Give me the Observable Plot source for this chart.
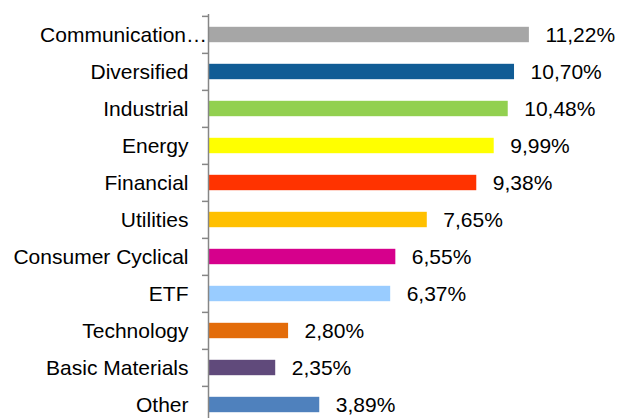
<!DOCTYPE html>
<html>
<head>
<meta charset="utf-8">
<script src="https://cdn.jsdelivr.net/npm/d3@7"></script>
<script src="https://cdn.jsdelivr.net/npm/@observablehq/plot@0.6"></script>
<style>
  html, body { margin: 0; padding: 0; background: #fff; }
  #chart svg { display: block; }
</style>
</head>
<body>
<div id="chart"></div>
<script>
const categories = ["Communication…", "Diversified", "Industrial", "Energy", "Financial", "Utilities", "Consumer Cyclical", "ETF", "Technology", "Basic Materials", "Other"];
const values = [11.22, 10.70, 10.48, 9.99, 9.38, 7.65, 6.55, 6.37, 2.80, 2.35, 3.89];
const colors = ["#A6A6A6", "#105C95", "#92D050", "#FFFF00", "#FF3300", "#FFC000", "#D6008C", "#99CCFF", "#E36C0A", "#604A7B", "#4F81BD"];

const data = categories.map((c, i) => ({cat: c, value: values[i], color: colors[i]}));

const pxPerUnit = 28.6;
const x0 = 208;
const step = 37.24;
const yTop = 14.3;

const fmt = v => v.toFixed(2).replace(".", ",") + "%";

const chart = Plot.plot({
  width: 619,
  height: 418,
  marginTop: 14,
  marginBottom: 0,
  marginLeft: x0,
  marginRight: 0,
  style: {fontFamily: "'Liberation Sans', Arial, sans-serif", fontSize: "21px", color: "#000", background: "#fff"},
  x: {domain: [0, 12], range: [x0, x0 + 12 * pxPerUnit], axis: null},
  y: {domain: categories, range: [yTop, yTop + categories.length * step], padding: 0, axis: null},
  marks: [
    Plot.barX(data, {x: "value", y: "cat", fill: "color", insetTop: 10.8, insetBottom: 10.8}),
    Plot.ruleY(categories, {y: d => d, x1: -6 / pxPerUnit, x2: 0, dy: -step / 2, stroke: "#868686", strokeWidth: 1.5}),
    Plot.ruleX([0], {stroke: "#868686", strokeWidth: 1.5}),
    Plot.text(categories.filter(c => c !== "Communication…"), {x: 0, y: d => d, text: d => d, textAnchor: "end", dx: -20, fill: "#000", fontSize: 21}),
    Plot.text(categories.filter(c => c === "Communication…"), {x: 0, y: d => d, text: d => d, textAnchor: "end", dx: -1.5, fill: "#000", fontSize: 21}),
    Plot.text(data, {x: "value", y: "cat", text: d => fmt(d.value), textAnchor: "start", dx: 16, fill: "#000", fontSize: 21})
  ]
});
document.getElementById("chart").appendChild(chart);
</script>
</body>
</html>
